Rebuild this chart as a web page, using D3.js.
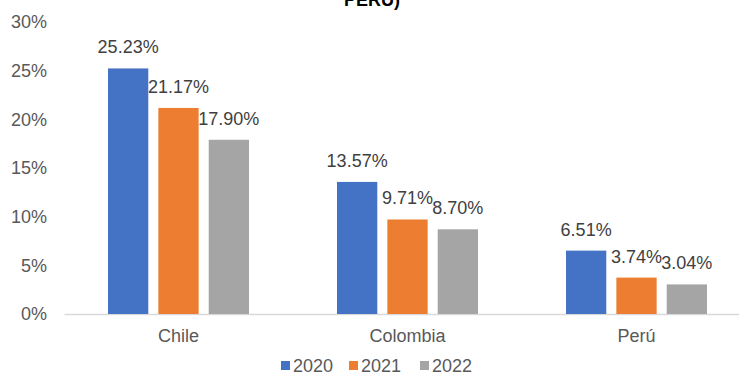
<!DOCTYPE html>
<html><head><meta charset="utf-8">
<script src="https://cdn.jsdelivr.net/npm/d3@7"></script>
<style>body{margin:0;background:#fff}svg{display:block;font-family:"Liberation Sans",Arial,sans-serif}</style>
</head><body><svg id="c" width="739" height="374"></svg>
<script>
const categories = ["Chile", "Colombia", "Perú"];
const years = ["2020", "2021", "2022"];
const values2020 = [25.23, 13.57, 6.51];
const values2021 = [21.17, 9.71, 3.74];
const values2022 = [17.90, 8.70, 3.04];
const yTicks = [0, 5, 10, 15, 20, 25, 30];
const colors = ["#4472C4", "#ED7D31", "#A5A5A5"];
const title = "PERU)";

const series = [values2020, values2021, values2022];
const svg = d3.select("#c");
const x0 = d3.scaleBand().domain(categories).range([64, 751]).padding(0);
const x1 = d3.scaleBand().domain(years).range([44, 185]).paddingInner(0.2);
const y = d3.scaleLinear().domain([0, 30]).range([314, 22]);
const FS = 18;

svg.append("text").attr("x", 372).attr("y", 5.5).attr("text-anchor", "middle")
  .attr("font-size", 18).attr("font-weight", "bold").attr("fill", "#000").text(title);

const yAxis = d3.axisLeft(y).tickValues(yTicks).tickFormat(d => d + "%").tickSize(0).tickPadding(0);
const gy = svg.append("g").attr("transform", "translate(47,0)").call(yAxis);
gy.select(".domain").remove();
gy.selectAll("text").attr("font-size", FS).attr("fill", "#595959").attr("font-family", "Liberation Sans, Arial, sans-serif");

const xAxis = d3.axisBottom(x0).tickSize(0).tickPadding(15);
const gx = svg.append("g").attr("transform", "translate(0,314)").call(xAxis);
gx.select(".domain").attr("stroke", "#D9D9D9").attr("stroke-width", 1.3);
gx.selectAll("text").attr("font-size", FS).attr("fill", "#595959").attr("font-family", "Liberation Sans, Arial, sans-serif");

const groups = svg.append("g").selectAll("g").data(categories).join("g")
  .attr("transform", d => `translate(${x0(d)},0)`);
years.forEach((yr, si) => {
  groups.append("rect")
    .attr("x", x1(yr)).attr("width", x1.bandwidth())
    .attr("y", (d, i) => y(series[si][i]))
    .attr("height", (d, i) => y(0) - y(series[si][i]))
    .attr("fill", colors[si]);
  groups.append("text")
    .attr("x", x1(yr) + x1.bandwidth() / 2)
    .attr("y", (d, i) => y(series[si][i]) - 15)
    .attr("text-anchor", "middle").attr("font-size", FS).attr("fill", "#404040")
    .text((d, i) => series[si][i].toFixed(2) + "%");
});

const legendX = [281, 349, 420];
const lg = svg.append("g");
years.forEach((yr, i) => {
  lg.append("rect").attr("x", legendX[i]).attr("y", 361).attr("width", 9).attr("height", 9).attr("fill", colors[i]);
  lg.append("text").attr("x", legendX[i] + 12).attr("y", 372).attr("font-size", FS).attr("fill", "#595959").text(yr);
});
</script></body></html>
